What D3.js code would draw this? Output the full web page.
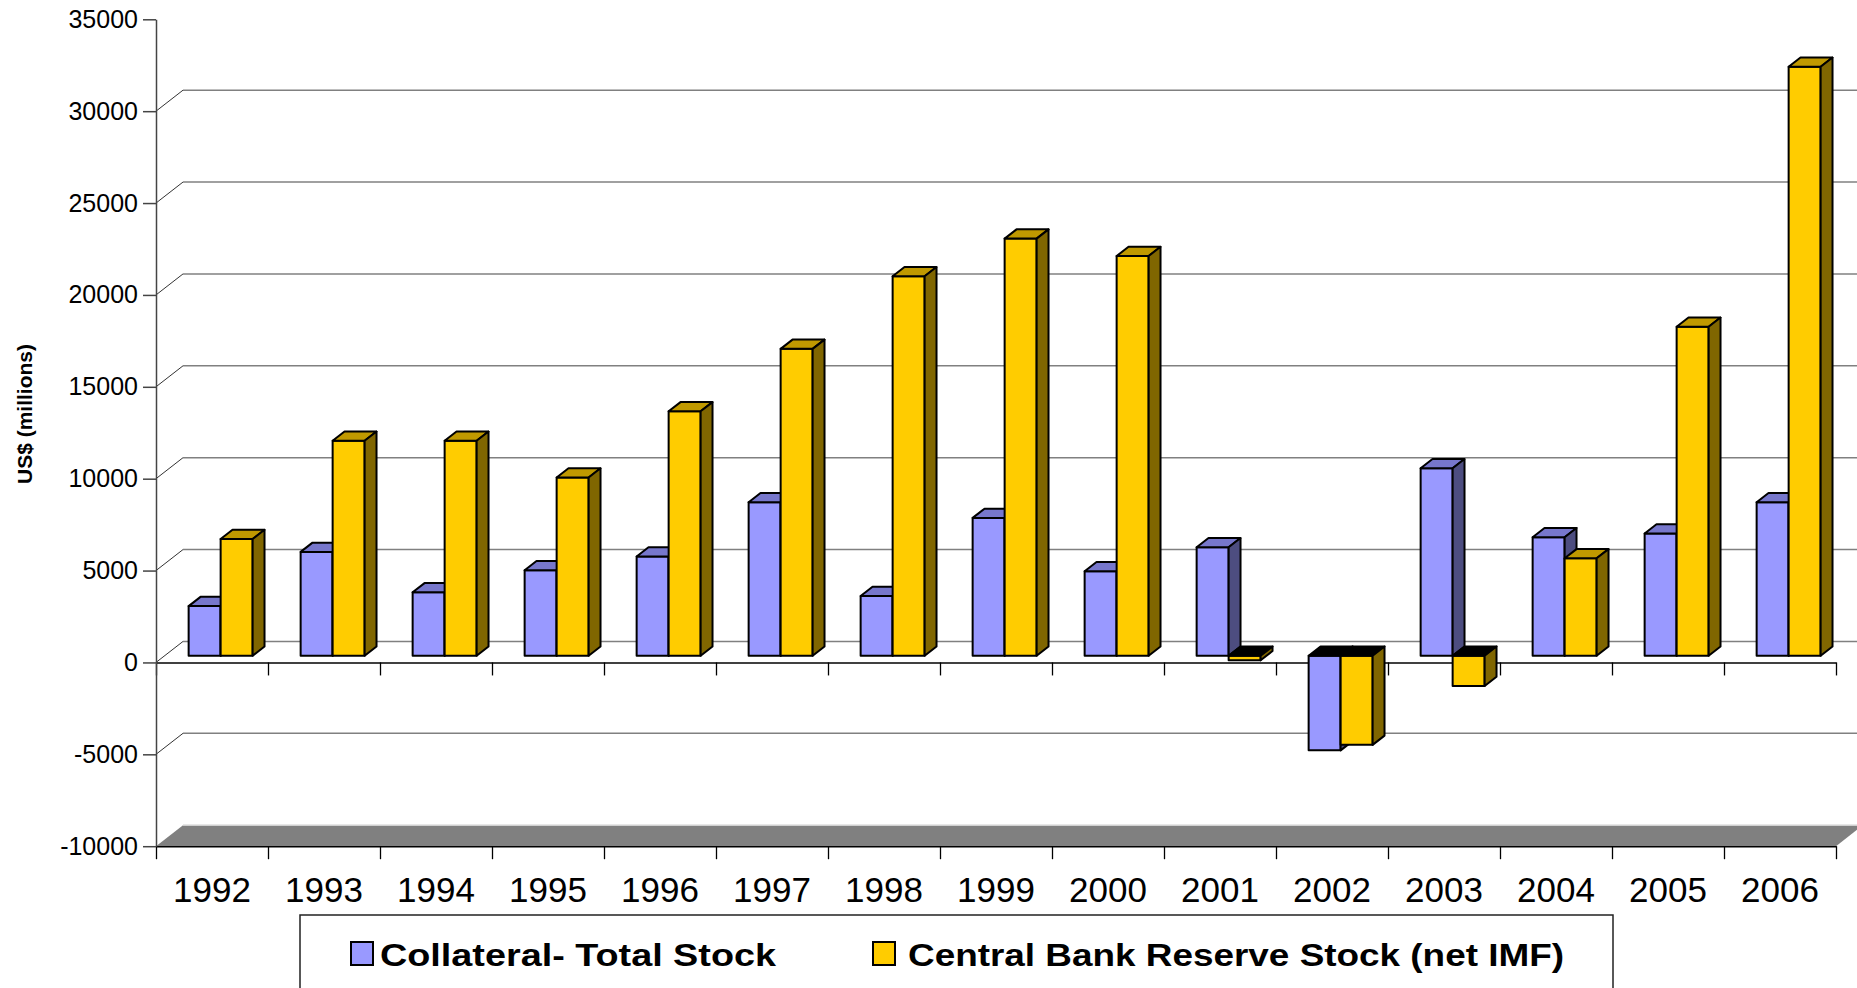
<!DOCTYPE html>
<html>
<head>
  <meta charset="utf-8">
  <script src="https://d3js.org/d3.v7.min.js"></script>
  <style>
    body { margin: 0; background: #fff; }
    text { font-family: "Liberation Sans", Arial, sans-serif; }
  </style>
</head>
<body>
  <div id="chart"></div>

  <script>
    // values (US$ millions)
    var years = ["1992", "1993", "1994", "1995", "1996", "1997", "1998", "1999",
                 "2000", "2001", "2002", "2003", "2004", "2005", "2006"];
    var collateral = [2700, 5650, 3450, 4650, 5400, 8350, 3250, 7500,
                      4600, 5900, -5150, 10200, 6450, 6650, 8350];
    var reserves = [6350, 11700, 11700, 9700, 13300, 16700, 20650, 22700,
                    21750, -250, -4850, -1650, 5300, 17900, 32050];
    var yTicks = [-10000, -5000, 0, 5000, 10000, 15000, 20000, 25000, 30000, 35000];
    var seriesNames = ["Collateral- Total Stock", "Central Bank Reserve Stock (net IMF)"];

    var W = 1857, H = 988;
    var DX = 27, DY = -21;          // depth of the 3d plot
    var bf = 0.32, bb = 0.76;       // bar front / back as a fraction of the depth

    var colors = [
      { front: "#9999ff", top: "#7777cc", side: "#4d4d80" },
      { front: "#ffcc00", top: "#c09900", side: "#806600" }
    ];

    var svg = d3.select("#chart").append("svg")
      .attr("width", W)
      .attr("height", H);

    var y = d3.scaleLinear().domain([-10000, 35000]).range([846.2, 19.3]);
    var x = d3.scaleBand().domain(years).range([156, 1836]).padding(0);
    var xs = d3.scaleBand().domain([0, 1]).range([0, x.bandwidth()])
      .paddingInner(0).paddingOuter(0.75);
    var xi = d3.scaleLinear().domain([0, years.length]).range([156, 1836]);

    // back wall gridlines + diagonal connectors
    var grid = svg.append("g");
    yTicks.filter(function(t) { return t > -10000 && t < 35000; }).forEach(function(t) {
      grid.append("line")
        .attr("x1", 156).attr("y1", y(t))
        .attr("x2", 156 + DX).attr("y2", y(t) + DY)
        .attr("stroke", "#333").attr("stroke-width", 1);
      grid.append("line")
        .attr("x1", 156 + DX).attr("y1", y(t) + DY)
        .attr("x2", 1836 + DX).attr("y2", y(t) + DY)
        .attr("stroke", "#808080").attr("stroke-width", 1.6);
    });

    // floor
    var fy = y(-10000);
    svg.append("path")
      .attr("d", "M156," + fy + "L1836," + fy + "L" + (1836 + DX) + "," + (fy + DY) +
                 "L" + (156 + DX) + "," + (fy + DY) + "Z")
      .attr("fill", "#808080");
    svg.append("line")
      .attr("x1", 156 + DX).attr("y1", fy + DY)
      .attr("x2", 1836 + DX).attr("y2", fy + DY)
      .attr("stroke", "#d0d0d0").attr("stroke-width", 1.5);

    // category axis at zero and at the floor
    [0, -10000].forEach(function(v) {
      svg.append("g")
        .attr("transform", "translate(0," + y(v) + ")")
        .call(d3.axisBottom(xi).tickValues(d3.range(years.length + 1))
          .tickFormat("").tickSize(13).tickSizeOuter(0))
        .call(function(g) {
          g.selectAll("line").attr("stroke", "#000").attr("stroke-width", 1.3);
          g.select(".domain").attr("stroke", "#000").attr("stroke-width", 1.5);
        });
    });

    // bars
    function bar(g, x0, w, v, c) {
      var fx = x0 + DX * bf, dx = DX * (bb - bf), dy = DY * (bb - bf);
      var top = y(Math.max(v, 0)) + DY * bf, bot = y(Math.min(v, 0)) + DY * bf;
      function poly(pts, fill) {
        g.append("path").attr("d", "M" + pts.join("L") + "Z")
          .attr("fill", fill)
          .attr("stroke", "#000")
          .attr("stroke-width", 2)
          .attr("stroke-linejoin", "round");
      }
      poly([[fx, top], [fx + w, top], [fx + w, bot], [fx, bot]], c.front);
      poly([[fx, top], [fx + w, top], [fx + w + dx, top + dy], [fx + dx, top + dy]],
           v < 0 ? "#000" : c.top);
      poly([[fx + w, top], [fx + w + dx, top + dy], [fx + w + dx, bot + dy], [fx + w, bot]], c.side);
    }

    var bars = svg.append("g");
    years.forEach(function(yr, i) {
      [collateral[i], reserves[i]].forEach(function(v, s) {
        bar(bars, x(yr) + xs(s), xs.bandwidth(), v, colors[s]);
      });
    });

    // value axis
    svg.append("g")
      .attr("transform", "translate(156,0)")
      .call(d3.axisLeft(y).tickValues(yTicks).tickFormat(function(d) { return String(d); })
        .tickSize(13).tickSizeOuter(0).tickPadding(5))
      .call(function(g) {
        g.select(".domain").attr("stroke", "#444").attr("stroke-width", 1.5);
        g.selectAll(".tick line").attr("stroke", "#444").attr("stroke-width", 1.5);
        g.selectAll("text")
          .style("font-family", "'Liberation Sans', Arial, sans-serif")
          .style("font-size", "25px").attr("fill", "#000");
      });

    // year labels
    svg.append("g").selectAll("text")
      .data(years)
      .enter().append("text")
      .attr("x", function(d) { return x(d) + x.bandwidth() / 2; })
      .attr("y", 902)
      .attr("text-anchor", "middle")
      .style("font-size", "35px")
      .text(function(d) { return d; });

    // y title
    svg.append("text")
      .attr("transform", "translate(32,414) rotate(-90)")
      .attr("text-anchor", "middle")
      .style("font-size", "21px")
      .style("font-weight", "bold")
      .text("US$ (millions)");

    // legend
    var lg = svg.append("g");
    lg.append("rect")
      .attr("x", 300).attr("y", 915).attr("width", 1313).attr("height", 120)
      .attr("fill", "#fff").attr("stroke", "#222").attr("stroke-width", 1.5);
    var legendItems = [
      { sx: 351, tx: 380, tw: 396 },
      { sx: 873, tx: 908, tw: 656 }
    ];
    legendItems.forEach(function(it, i) {
      lg.append("rect")
        .attr("x", it.sx).attr("y", 942).attr("width", 22).attr("height", 23)
        .attr("fill", colors[i].front).attr("stroke", "#000").attr("stroke-width", 2);
      lg.append("text")
        .attr("x", it.tx).attr("y", 966)
        .attr("textLength", it.tw).attr("lengthAdjust", "spacingAndGlyphs")
        .style("font-size", "31px").style("font-weight", "bold")
        .text(seriesNames[i]);
    });
  </script>
</body>
</html>
